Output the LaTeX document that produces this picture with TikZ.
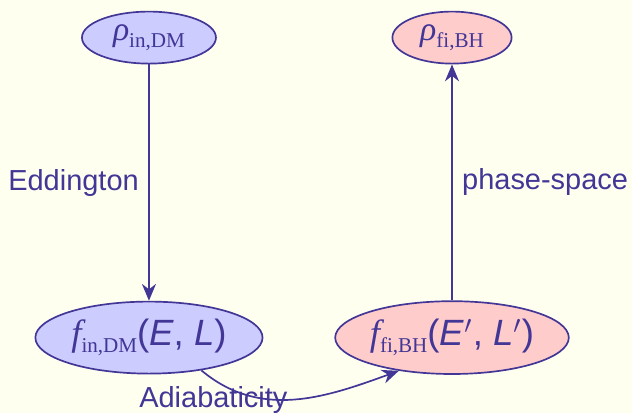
\documentclass[tikz,border=0pt]{standalone}
\usepackage{fontspec}
\setmainfont{Liberation Sans}
\newfontfamily\timesfont{Liberation Serif}
\usetikzlibrary{shapes.geometric,arrows.meta}

\definecolor{ink}{RGB}{66,54,150}
\definecolor{paper}{RGB}{255,255,240}
\definecolor{bluefill}{RGB}{204,204,255}
\definecolor{redfill}{RGB}{255,204,204}

% density symbol with a roman subscript
\newcommand{\dens}[2]{{\timesfont\itshape #1}\raisebox{-0.35ex}{\fontsize{7.5}{8}\timesfont #2}}

\tikzset{
  blob/.style={ellipse, draw=ink, semithick, inner sep=0pt, minimum height=0.65cm},
  blueblob/.style={blob, fill=bluefill},
  redblob/.style={blob, fill=redfill},
  flow/.style={-{Stealth[length=6pt,width=5pt]}, semithick, draw=ink},
}

\begin{document}
\begin{tikzpicture}[color=ink, font=\fontsize{10.3}{12}\selectfont]
  \fill[paper] (0,0) rectangle (7.9,-5.1625);
  \useasboundingbox (0,0) rectangle (7.9,-5.1625);

  \node[blueblob, minimum width=1.675cm] (rin) at (1.862,-0.47)
    {\fontsize{12}{14}\selectfont\dens{ρ}{in,DM}};
  \node[redblob, minimum width=1.49cm] (rfi) at (5.65,-0.47)
    {\fontsize{12}{14}\selectfont\dens{ρ}{fi,BH}};

  \node[blueblob, minimum width=2.84cm, minimum height=0.9cm] (fin) at (1.862,-4.22)
    {\fontsize{13}{14}\selectfont\dens{f}{in,DM}(\textit{E}, \textit{L})};
  \node[redblob, minimum width=2.92cm, minimum height=0.91cm] (ffi) at (5.65,-4.22)
    {\fontsize{13}{14}\selectfont\dens{f}{fi,BH}(\textit{E}$'$, \textit{L}$'$)};

  \draw[flow] (rin) -- node[midway, left] {Eddington} (fin);
  \draw[flow] (ffi) -- node[midway, right] {phase-space} (rfi);

  % curved step between the two distributions
  \draw[flow] (fin.-32) to[out=-40, in=200]
    node[pos=0, anchor=north, xshift=0.15cm, yshift=-0.08cm] (adia) {Adiabaticity} (ffi.212);
\end{tikzpicture}
\end{document}
